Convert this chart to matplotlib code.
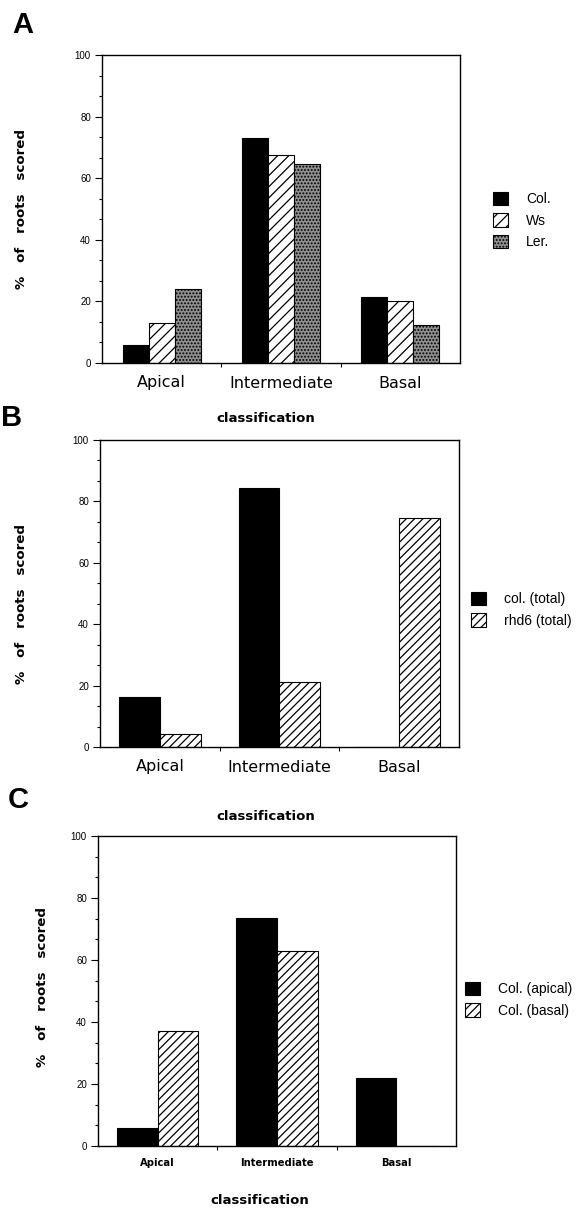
import matplotlib.pyplot as plt
from matplotlib.ticker import MultipleLocator
import numpy as np

# Values (% of roots scored)
categories = ['Apical', 'Intermediate', 'Basal']

a_labels = ['Col.', 'Ws', 'Ler.']
a_col = [6, 73, 21.5]
a_ws = [13, 67.5, 20]
a_ler = [24, 64.5, 12.3]

b_labels = ['col. (total)', 'rhd6 (total)']
b_col = [16.3, 84.3, 0]
b_rhd6 = [4.2, 21.3, 74.5]

c_labels = ['Col. (apical)', 'Col. (basal)']
c_apical = [5.9, 73.5, 21.8]
c_basal = [37.2, 63, 0]

W, H = 588, 1210
fig = plt.figure(figsize=(W / 100, H / 100), dpi=100)
plt.rcParams['hatch.linewidth'] = 0.9


def px_axes(l, t, r, b):
    return fig.add_axes([l / W, 1 - b / H, (r - l) / W, (b - t) / H])


def style_axes(ax, tick_font):
    ax.set_xlim(-0.5, 2.5)
    ax.set_ylim(0, 100)
    for s in ax.spines.values():
        s.set_linewidth(1.0)
    ax.yaxis.set_major_locator(MultipleLocator(20))
    ax.yaxis.set_minor_locator(MultipleLocator(20 / 3))
    ax.tick_params(axis='y', which='major', direction='out', length=5, width=0.8,
                   labelsize=7, pad=3)
    ax.tick_params(axis='y', which='minor', direction='out', length=2, width=0.8)
    for lab in ax.get_yticklabels():
        lab.set_family('Liberation Sans')
    ax.set_xticks(range(3))
    ax.set_xticklabels(categories, **tick_font)
    ax.set_xticks([0.5, 1.5], minor=True)
    ax.tick_params(axis='x', which='major', length=0, pad=9)
    ax.tick_params(axis='x', which='minor', direction='out', length=3, width=0.8)


def bars(ax, series, width, styles):
    n = len(series)
    x = np.arange(len(categories))
    handles = []
    for i, (vals, st) in enumerate(zip(series, styles)):
        off = (i - (n - 1) / 2) * width
        h = ax.bar(x + off, vals, width, edgecolor='black', linewidth=0.8, **st)
        handles.append(h)
    return handles


def legend(ax, handles, labels, x, y):
    ax.legend(handles, labels, loc='upper left',
              bbox_to_anchor=(x / W, 1 - y / H), bbox_transform=fig.transFigure,
              frameon=False, borderpad=0, borderaxespad=0,
              handlelength=1.1, handleheight=1.1, handletextpad=1.3,
              labelspacing=0.5, prop={'family': 'Liberation Sans', 'size': 10})


solid = {'color': 'black'}
hatch3 = {'color': 'white', 'hatch': '///'}
hatch4 = {'color': 'white', 'hatch': '////'}
stipple = {'color': '#8f8f8f', 'hatch': '.....'}

big_ticks = {'family': 'DejaVu Sans', 'fontsize': 11.5}
small_ticks = {'family': 'DejaVu Sans', 'fontsize': 7.2, 'fontweight': 'bold'}
ylab = '%   of   roots   scored'
xlab = 'classification'

# Panel A
axA = px_axes(102, 55, 460, 363)
hA = bars(axA, [a_col, a_ws, a_ler], 0.218, [solid, hatch3, stipple])
style_axes(axA, big_ticks)
legend(axA, hA, a_labels, 493, 192)

# Panel B
axB = px_axes(100, 440, 459, 747)
hB = bars(axB, [b_col, b_rhd6], 0.34, [solid, hatch4])
style_axes(axB, big_ticks)
legend(axB, hB, b_labels, 471, 592)

# Panel C
axC = px_axes(98, 836, 456, 1146)
hC = bars(axC, [c_apical, c_basal], 0.34, [solid, hatch4])
style_axes(axC, small_ticks)
legend(axC, hC, c_labels, 465, 982)

# axis titles and panel letters
for x, y in [(22, 209), (22, 604), (43, 987)]:
    fig.text(x / W, 1 - y / H, ylab, rotation=90, ha='center', va='center',
             fontsize=9.6, fontweight='bold', family='DejaVu Sans')
for x, y in [(266, 419), (266, 817), (260, 1200)]:
    fig.text(x / W, 1 - y / H, xlab, ha='center', va='center',
             fontsize=9.5, fontweight='bold', family='DejaVu Sans')

fig.text(22.5 / W, 1 - 25 / H, 'A', ha='center', va='center', fontsize=21,
         fontweight='bold', family='Liberation Sans')
fig.text(1 / W, 1 - 418.5 / H, 'B', ha='left', va='center', fontsize=21,
         fontweight='bold', family='Liberation Sans')
fig.text(18 / W, 1 - 800 / H, 'C', ha='center', va='center', fontsize=21,
         fontweight='bold', family='Liberation Sans')

fig.savefig('out.png', dpi=100)
